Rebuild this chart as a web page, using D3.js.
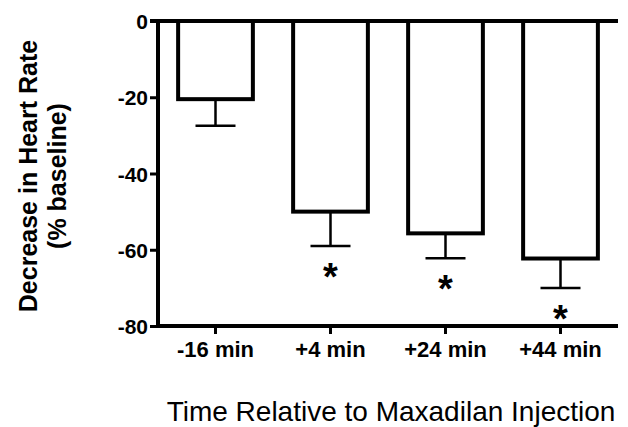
<!DOCTYPE html>
<html><head><meta charset="utf-8">
<script src="https://cdn.jsdelivr.net/npm/d3@7"></script>
<style>body{margin:0;background:#fff}svg{display:block}</style>
</head><body><svg id="c" width="628" height="427"></svg>
<script>
const categories = ["-16 min", "+4 min", "+24 min", "+44 min"];
const means = [-20.5, -50, -55.7, -62.3];
const errors = [7, 9, 6.5, 7.7];
const significant = [false, true, true, true];
const yTicks = [0, -20, -40, -60, -80];

const svg = d3.select("#c");
const x = d3.scaleBand().domain(categories).range([158, 618]).paddingInner(0.35).paddingOuter(0.175);
const y = d3.scaleLinear().domain([-80, 0]).range([326, 21]);
const font = "Arial, 'Liberation Sans', sans-serif";

// bars
svg.selectAll("rect.bar").data(categories).join("rect")
  .attr("x", d => x(d)).attr("width", x.bandwidth())
  .attr("y", y(0)).attr("height", (d,i) => y(means[i]) - y(0))
  .attr("fill", "#fff").attr("stroke", "#000").attr("stroke-width", 4);

// error bars
const cx = d => x(d) + x.bandwidth()/2;
svg.selectAll("line.err").data(categories).join("line")
  .attr("x1", cx).attr("x2", cx)
  .attr("y1", (d,i) => y(means[i])).attr("y2", (d,i) => y(means[i]-errors[i]))
  .attr("stroke", "#000").attr("stroke-width", 2.5);
svg.selectAll("line.cap").data(categories).join("line")
  .attr("x1", d => cx(d)-20).attr("x2", d => cx(d)+20)
  .attr("y1", (d,i) => y(means[i]-errors[i])).attr("y2", (d,i) => y(means[i]-errors[i]))
  .attr("stroke", "#000").attr("stroke-width", 2.5);

// asterisks
svg.selectAll("text.ast").data(categories.filter((d,i)=>significant[i])).join("text")
  .attr("x", cx)
  .attr("y", d => { const i = categories.indexOf(d); return y(means[i]-errors[i]) + 44; })
  .attr("text-anchor", "middle").attr("font-family", font).attr("font-weight", "bold")
  .attr("font-size", 38).text("*");

// y axis
const yAxis = svg.append("g").attr("transform", "translate(158,0)")
  .call(d3.axisLeft(y).tickValues(yTicks).tickFormat(d => String(d)).tickSize(8).tickSizeOuter(0).tickPadding(2));
yAxis.select(".domain").attr("stroke-width", 4).attr("d", `M0,${y(0)-2}V${y(-80)+2}`);
yAxis.selectAll(".tick line").attr("stroke-width", 3);
yAxis.selectAll("text").attr("font-family", font).attr("font-weight", "bold").attr("font-size", 21).attr("fill", "#000").attr("dy", "0.36em");

// x axis
const xAxis = svg.append("g").attr("transform", `translate(0,${y(-80)})`)
  .call(d3.axisBottom(x).tickSize(8).tickSizeOuter(0).tickPadding(6));
xAxis.select(".domain").attr("stroke-width", 4).attr("d", "M156,0H618");
xAxis.selectAll(".tick line").attr("stroke-width", 3);
xAxis.selectAll("text").attr("font-family", font).attr("font-weight", "bold").attr("font-size", 22).attr("fill", "#000")
  .attr("dy", null).attr("y", 31);

// top baseline across bars
svg.append("line").attr("x1", 150).attr("x2", 618).attr("y1", y(0)).attr("y2", y(0))
  .attr("stroke", "#000").attr("stroke-width", 4);

// y title
const yt = svg.append("text").attr("transform", "translate(0,176) rotate(-90)")
  .attr("text-anchor", "middle").attr("font-family", font).attr("font-weight", "bold").attr("font-size", 25);
yt.append("tspan").attr("x", 0).attr("y", 37).text("Decrease in Heart Rate");
yt.append("tspan").attr("x", 0).attr("y", 66).text("(% baseline)");

// x title
svg.append("text").attr("x", 391).attr("y", 421).attr("text-anchor", "middle")
  .attr("font-family", font).attr("font-size", 28).text("Time Relative to Maxadilan Injection");
</script></body></html>
